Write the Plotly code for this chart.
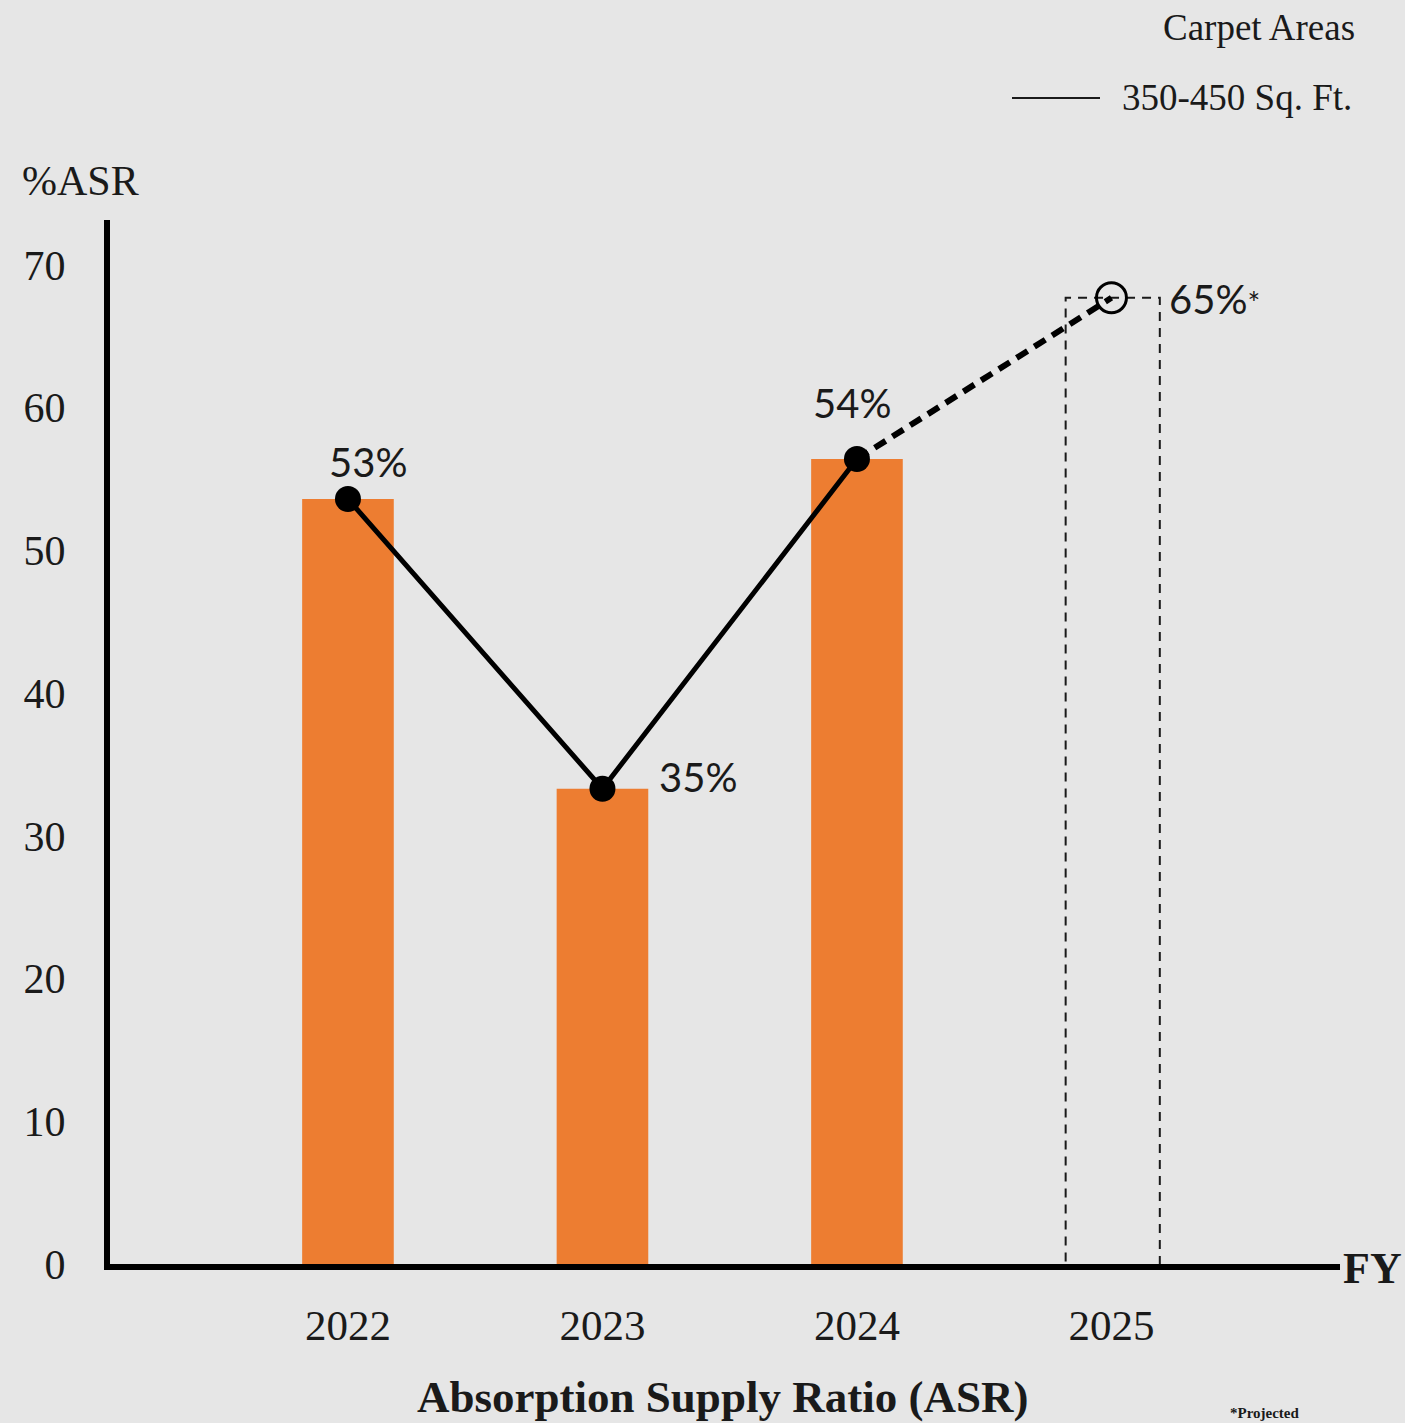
import plotly.graph_objects as go

# ---- data ----
years = [2022, 2023, 2024]
asr_values = [53.6, 33.3, 56.4]
projected_year = 2025
projected_value = 67.7
value_labels = ["53%", "35%", "54%"]
projected_label = "65%<span style='font-size:30px'>*</span>"
tick_years = [2022, 2023, 2024, 2025]
tick_text = ["2022", "2023", "2024", "2025"]
y_ticks = [0, 10, 20, 30, 40, 50, 60, 70]

W, H = 1405, 1423
L, R, T, B = 110, 65, 220, 159
pw, ph = W - L - R, H - T - B

def px(x):
    return (x - L) / pw

def py(y):
    return (H - B - y) / ph

serif = "Liberation Serif"
sans = "Lato"
ink = "#1a1a1a"
bg = "#e6e6e6"

fig = go.Figure()

fig.add_trace(go.Bar(
    x=years, y=asr_values, width=0.36,
    marker=dict(color="#ED7D31", line=dict(width=0)),
    hoverinfo="skip", showlegend=False,
))

# projected dashed outline
fig.add_shape(type="rect", xref="x", yref="y",
              x0=projected_year - 0.18, x1=projected_year + 0.19,
              y0=-0.2, y1=projected_value,
              line=dict(color=ink, width=2, dash="9px,7px"),
              fillcolor="rgba(0,0,0,0)", layer="below")

# dashed projection segment
fig.add_trace(go.Scatter(
    x=[years[-1], projected_year], y=[asr_values[-1], projected_value],
    mode="lines", line=dict(color="black", width=6, dash="13px,8px"),
    hoverinfo="skip", showlegend=False,
))

# main line
fig.add_trace(go.Scatter(
    x=years, y=asr_values, mode="lines+markers",
    line=dict(color="black", width=5),
    marker=dict(color="black", size=26),
    hoverinfo="skip", showlegend=False,
))

# projected open marker
fig.add_trace(go.Scatter(
    x=[projected_year], y=[projected_value], mode="markers",
    marker=dict(symbol="circle-open", color="black", size=30, line=dict(width=3)),
    hoverinfo="skip", showlegend=False,
))

# value labels
shifts = [(20, 37), (96, 12), (-5, 56)]
for yr, v, lab, (xs, ys) in zip(years, asr_values, value_labels, shifts):
    fig.add_annotation(x=yr, y=v, xref="x", yref="y", text=lab, showarrow=False,
                       xanchor="center", yanchor="middle",
                       xshift=xs, yshift=ys,
                       font=dict(family=sans, size=40, color=ink))
fig.add_annotation(x=projected_year, y=projected_value, xref="x", yref="y",
                   text=projected_label, showarrow=False, xanchor="left",
                   yanchor="middle", xshift=56, yshift=-1,
                   font=dict(family=sans, size=40, color=ink))

def note(x, y, text, size, xanchor="center", bold=False):
    fig.add_annotation(x=px(x), y=py(y), xref="paper", yref="paper",
                       text=f"<b>{text}</b>" if bold else text,
                       showarrow=False, xanchor=xanchor, yanchor="middle",
                       font=dict(family=serif, size=size, color=ink))

# axis titles
note(80, 181, "%ASR", 42)
note(1372, 1268, "FY", 44, bold=True)
note(722, 1397, "Absorption Supply Ratio (ASR)", 45, bold=True)
note(1228, 1413, "*Projected", 15, xanchor="left", bold=True)

# legend (manual)
note(1357, 27, "Carpet Areas", 37, xanchor="right")
note(1120, 98, "350-450 Sq. Ft.", 37, xanchor="left")
fig.add_shape(type="line", xref="paper", yref="paper",
              x0=px(1012), x1=px(1100), y0=py(98), y1=py(98),
              line=dict(color=ink, width=2))

fig.update_layout(
    width=W, height=H,
    margin=dict(l=L, r=R, t=T, b=B, pad=0),
    paper_bgcolor=bg, plot_bgcolor=bg,
    xaxis=dict(range=[2021.065, 2025.898], tickvals=tick_years, ticktext=tick_text,
               showgrid=False, zeroline=False, showline=True, linecolor="black",
               linewidth=6, ticks="", ticklabelstandoff=18,
               tickfont=dict(family=serif, size=43, color=ink)),
    yaxis=dict(range=[0, 73.15], tickvals=y_ticks, showgrid=False, zeroline=False,
               showline=True, linecolor="black", linewidth=6, ticks="",
               ticklabelstandoff=30,
               tickfont=dict(family=serif, size=42, color=ink)),
)

fig.write_html(
    "out.html",
    config={"displayModeBar": False},
    post_script="document.body.style.margin='0';document.body.style.background='#e6e6e6';",
)
